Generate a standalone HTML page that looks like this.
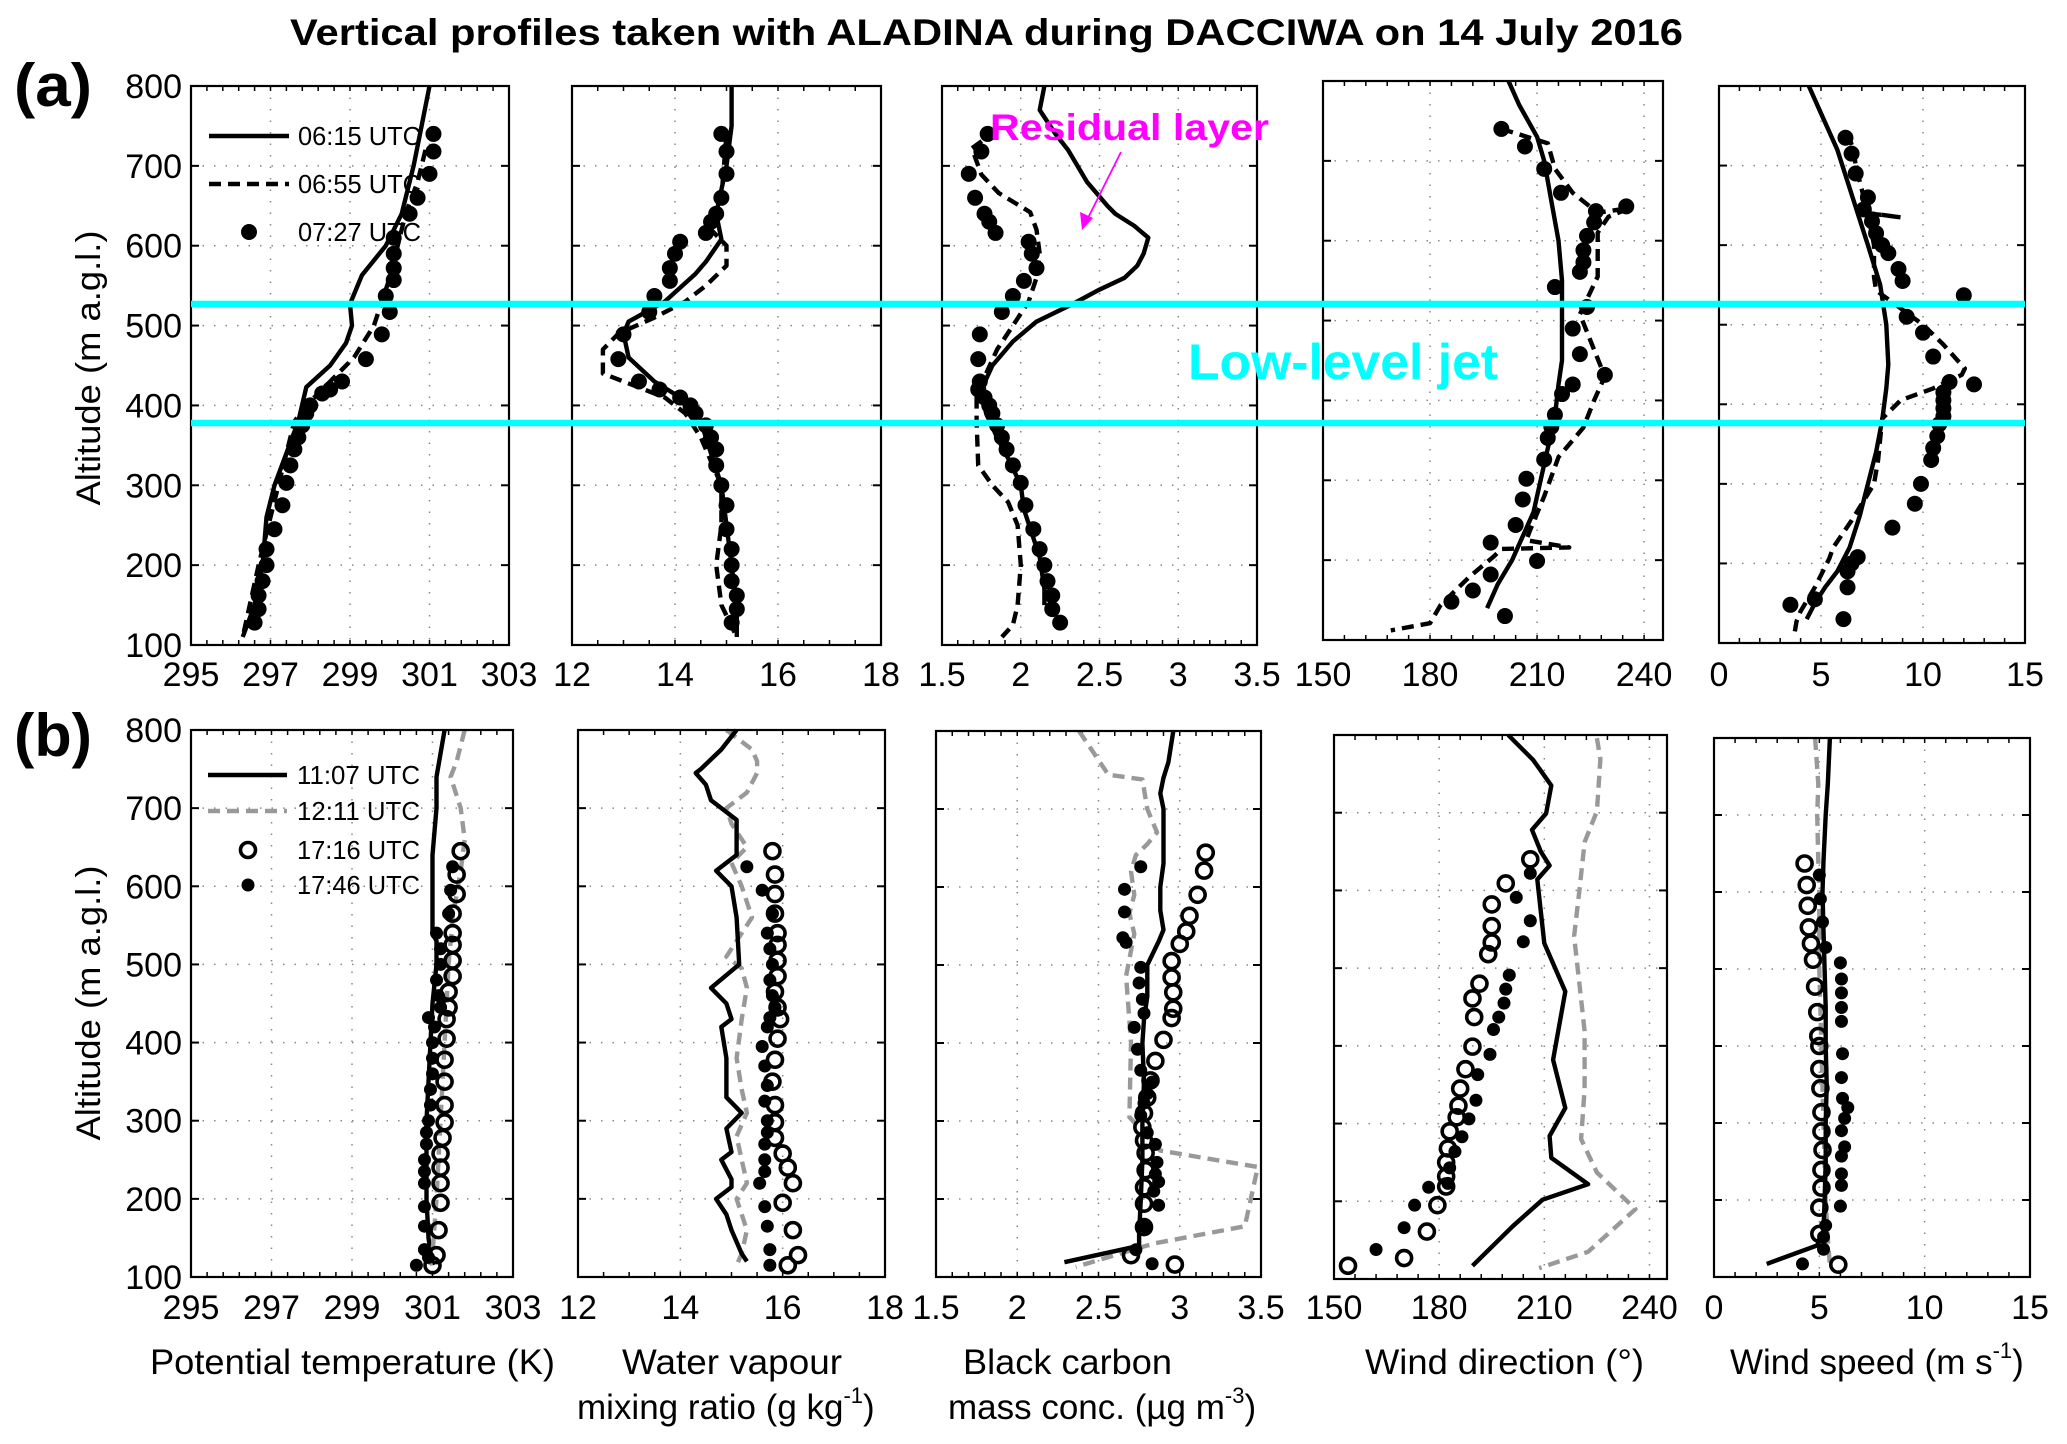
<!DOCTYPE html>
<html><head><meta charset="utf-8"><title>ALADINA vertical profiles</title>
<style>
html,body{margin:0;padding:0;background:#fff;}
svg{display:block;font-family:"Liberation Sans",Arial,sans-serif;}
</style></head>
<body>
<svg id="fig" width="2067" height="1444" viewBox="0 0 2067 1444" xmlns="http://www.w3.org/2000/svg">
<rect width="2067" height="1444" fill="#fff"/>
<text x="290" y="45" font-size="37" font-weight="bold" textLength="1393" lengthAdjust="spacingAndGlyphs">Vertical profiles taken with ALADINA during DACCIWA on 14 July 2016</text>
<text x="14" y="106" font-size="60" font-weight="bold" textLength="78" lengthAdjust="spacingAndGlyphs">(a)</text>
<text x="14" y="756" font-size="60" font-weight="bold" textLength="78" lengthAdjust="spacingAndGlyphs">(b)</text>
<g id="plots"></g>
<g id="overlay"></g>
</svg>
<script>
// ---- axis tick labels ----
const altTicks = [100,200,300,400,500,600,700,800];
const thetaTicks = [295,297,299,301,303];
const qTicks = [12,14,16,18];
const bcTicks = [1.5,2,2.5,3,3.5];
const wdTicks = [150,180,210,240];
const wsTicks = [0,5,10,15];

// ---- (a) data: [altitude m, value] ----
const a1Solid = [[800,301.0],[750,300.8],[700,300.6],[640,300.3],[600,299.9],[563,299.3],[527,299.0],[500,299.05],[478,298.9],[450,298.5],[423,297.9],[380,297.7],[340,297.4],[300,297.1],[260,296.9],[200,296.8],[150,296.6],[110,296.3]];
const a1Dash = [[720,300.9],[680,300.7],[640,300.4],[600,300.2],[560,300.0],[530,299.8],[500,299.6],[460,299.1],[430,298.5],[400,297.9],[380,297.6],[300,297.2],[200,296.7],[110,296.3]];
const a1Dots = [[740,301.1],[718,301.1],[690,301.0],[660,300.7],[640,300.5],[610,300.1],[590,300.1],[572,300.1],[557,300.1],[537,299.9],[517,300.0],[489,299.8],[458,299.4],[430,298.8],[420,298.5],[415,298.3],[400,298.0],[390,297.9],[375,297.8],[360,297.7],[345,297.6],[325,297.5],[303,297.4],[275,297.3],[245,297.1],[220,296.9],[200,296.9],[180,296.8],[162,296.7],[145,296.7],[128,296.6]];
const a2Solid = [[800,15.1],[750,15.1],[700,15.0],[640,14.8],[608,14.9],[580,14.6],[565,14.4],[530,13.8],[505,13.1],[490,13.0],[460,13.1],[430,13.6],[410,14.1],[380,14.5],[340,14.7],[300,14.9],[250,15.0],[200,15.1],[150,15.2],[110,15.2]];
const a2Dash = [[740,15.0],[660,14.9],[620,14.7],[600,15.0],[575,15.0],[550,14.6],[530,14.2],[510,13.6],[490,12.9],[470,12.6],[440,12.6],[430,13.0],[410,13.8],[390,14.2],[360,14.5],[330,14.7],[300,14.9],[250,14.9],[200,14.8],[150,14.9],[110,15.2]];
const a2Dots = [[740,14.9],[718,15.0],[690,15.0],[660,14.9],[640,14.8],[630,14.7],[616,14.6],[605,14.1],[590,14.0],[572,13.9],[556,13.9],[537,13.6],[517,13.5],[489,13.0],[458,12.9],[430,13.3],[420,13.7],[410,14.1],[400,14.3],[390,14.4],[375,14.6],[360,14.7],[345,14.8],[325,14.8],[300,14.9],[275,15.0],[245,15.0],[220,15.1],[200,15.1],[180,15.1],[162,15.2],[145,15.2],[128,15.1]];
const a3Solid = [[800,2.15],[770,2.12],[740,2.22],[720,2.3],[680,2.42],[650,2.55],[640,2.6],[625,2.72],[610,2.81],[590,2.78],[575,2.74],[560,2.66],[545,2.5],[527,2.33],[505,2.1],[480,1.95],[450,1.82],[420,1.75],[390,1.78],[360,1.85],[330,1.93],[300,2.0],[270,2.02],[240,2.07],[210,2.12],[170,2.15],[150,2.15]];
const a3Dash = [[745,1.85],[722,1.69],[689,1.75],[666,1.86],[642,2.06],[620,2.1],[590,2.12],[560,2.1],[530,2.05],[500,1.95],[470,1.85],[440,1.78],[420,1.72],[380,1.72],[325,1.73],[300,1.82],[279,1.92],[250,1.98],[200,2.0],[150,1.98],[125,1.95],[110,1.88]];
const a3Dots = [[740,1.79],[718,1.75],[690,1.67],[660,1.71],[640,1.77],[630,1.8],[616,1.84],[605,2.05],[590,2.07],[572,2.1],[556,2.02],[537,1.95],[517,1.88],[489,1.74],[458,1.73],[430,1.74],[420,1.73],[410,1.77],[400,1.8],[390,1.82],[375,1.85],[360,1.88],[345,1.91],[325,1.95],[303,2.0],[275,2.03],[245,2.08],[220,2.12],[200,2.15],[180,2.17],[162,2.2],[145,2.2],[128,2.25]];
const a4Solid = [[800,202],[770,205],[730,210],[700,212],[650,214],[600,216],[550,217],[500,217],[450,217],[420,216],[380,215],[340,213],[300,211],[260,209],[230,206],[200,203],[170,199],[140,196]];
const a4Dash = [[740,200],[722,213],[690,215],[660,220],[635,227],[641,236],[630,230],[610,227],[555,227],[508,222],[430,229],[400,226],[366,223],[329,216],[280,212],[237,208],[225,207],[216,219],[214,200],[205,198],[179,191],[144,183],[121,180],[112,169]];
const a4Dots = [[740,200],[718,206.6],[690,212],[660,216.7],[643,235],[637,226.5],[623,226],[606,224],[588,223],[573,223],[561,222],[542,215],[517,224],[490,220],[458,222],[432,229],[420,220],[408,217],[382,215],[367,214],[353,213],[326,212],[302,207],[276,206],[244,204],[222,197],[199,210],[182,197],[162,192],[148,186],[130,201]];
const a5Solid = [[800,4.4],[760,5.1],[720,5.8],[680,6.3],[640,6.8],[600,7.3],[550,7.9],[500,8.2],[450,8.3],[420,8.2],[380,8.0],[340,7.7],[300,7.3],[260,6.9],[220,6.4],[190,5.8],[170,5.2],[150,4.7],[130,4.3]];
const a5Dash = [[740,6.3],[720,6.6],[700,6.7],[660,7.1],[640,7.4],[635,8.9],[640,7.3],[600,7.6],[560,7.6],[543,7.7],[530,8.4],[500,10.0],[475,11.0],[445,12.05],[437,11.9],[420,10.5],[405,8.9],[382,8.0],[330,7.8],[300,7.6],[254,6.5],[220,5.6],[206,5.4],[170,4.7],[140,4.0],[127,3.8],[112,3.7]];
const a5Dots = [[735,6.2],[715,6.5],[690,6.7],[660,7.3],[645,7.1],[630,7.5],[615,7.7],[600,8.0],[590,8.3],[570,8.8],[555,9.0],[537,12.0],[510,9.2],[490,10.0],[460,10.5],[425,12.5],[428,11.3],[415,11.0],[405,11.0],[395,11.0],[385,11.0],[375,10.8],[360,10.7],[345,10.5],[330,10.4],[300,9.9],[275,9.6],[245,8.5],[208,6.8],[200,6.5],[190,6.3],[170,6.3],[155,4.7],[148,3.5],[130,6.1]];

// ---- (b) data ----
const b1Solid = [[800,301.3],[740,301.1],[700,301.1],[640,301.0],[600,301.0],[540,301.0],[530,301.1],[500,301.1],[450,301.0],[400,300.95],[350,300.9],[300,300.85],[250,300.85],[200,300.85],[150,300.9],[115,301.0]];
const b1Dash = [[800,301.8],[760,301.6],[740,301.45],[700,301.7],[660,301.8],[620,301.7],[560,301.5],[500,301.4],[400,301.3],[300,301.2],[200,301.1],[130,301.0],[115,300.95]];
const b1Open = [[645,301.7],[615,301.6],[590,301.6],[565,301.5],[540,301.5],[525,301.5],[505,301.5],[485,301.5],[465,301.4],[445,301.4],[430,301.35],[405,301.35],[378,301.3],[350,301.3],[320,301.3],[298,301.3],[278,301.25],[258,301.2],[240,301.2],[220,301.2],[195,301.2],[160,301.15],[128,301.1],[115,301.0]];
const b1Fill = [[625,301.5],[595,301.45],[565,301.4],[540,301.1],[520,301.2],[500,301.2],[480,301.1],[460,301.15],[445,301.2],[432,300.9],[420,301.05],[400,301.0],[380,301.0],[360,301.0],[340,300.95],[320,300.95],[300,300.9],[285,300.85],[270,300.85],[250,300.8],[235,300.8],[220,300.8],[190,300.8],[165,300.8],[135,300.8],[125,300.9],[115,300.6]];
const b2Solid = [[800,15.1],[775,14.8],[750,14.4],[745,14.3],[730,14.5],[710,14.6],[700,14.8],[685,15.1],[640,15.1],[620,14.7],[600,15.0],[560,15.1],[500,15.15],[470,14.6],[450,14.9],[430,15.0],[420,14.8],[380,14.9],[330,14.9],[310,15.2],[290,14.9],[260,15.0],[250,14.8],[225,15.0],[215,15.0],[200,14.7],[180,14.9],[160,15.0],[130,15.2],[120,15.3]];
const b2Dash = [[800,14.9],[775,15.4],[760,15.5],[745,15.5],[720,15.3],[700,14.9],[680,15.0],[650,15.3],[630,15.0],[600,15.2],[560,15.4],[530,15.1],[510,14.9],[495,15.2],[470,15.3],[430,15.2],[380,15.1],[340,15.2],[310,15.3],[280,15.1],[250,15.2],[220,15.3],[200,15.1],[160,15.3],[130,15.2],[115,15.1]];
const b2Open = [[645,15.8],[615,15.85],[590,15.85],[565,15.85],[540,15.9],[525,15.9],[505,15.9],[485,15.9],[465,15.85],[445,15.9],[430,15.95],[405,15.9],[378,15.85],[350,15.8],[320,15.85],[298,15.85],[278,15.85],[258,16.0],[240,16.1],[220,16.2],[195,16.0],[160,16.2],[128,16.3],[115,16.1]];
const b2Fill = [[625,15.3],[595,15.6],[565,15.8],[540,15.7],[520,15.75],[500,15.8],[480,15.75],[460,15.8],[445,15.85],[432,15.75],[420,15.7],[395,15.6],[370,15.65],[345,15.7],[325,15.65],[300,15.7],[285,15.7],[270,15.65],[250,15.65],[235,15.65],[220,15.55],[190,15.65],[165,15.7],[135,15.75],[115,15.75]];
const b3Solid = [[800,2.96],[760,2.93],[740,2.9],[720,2.88],[700,2.9],[670,2.9],[630,2.9],[600,2.88],[570,2.88],[545,2.9],[530,2.87],[500,2.8],[480,2.8],[460,2.8],[430,2.78],[400,2.77],[350,2.78],[300,2.77],[250,2.77],[200,2.76],[155,2.75],[140,2.75],[119,2.29]];
const b3Dash = [[800,2.38],[744,2.56],[738,2.77],[700,2.8],[670,2.86],[655,2.8],[641,2.73],[620,2.7],[590,2.72],[566,2.69],[540,2.72],[486,2.67],[400,2.7],[305,2.69],[262,2.88],[241,3.48],[165,3.4],[143,2.84],[113,2.36]];
const b3Open = [[644,3.16],[621,3.15],[590,3.11],[563,3.06],[543,3.04],[527,3.0],[505,2.95],[484,2.95],[465,2.96],[444,2.96],[432,2.95],[404,2.9],[377,2.85],[352,2.82],[330,2.8],[310,2.78],[292,2.77],[275,2.78],[259,2.79],[237,2.79],[215,2.78],[194,2.78],[164,2.78],[128,2.7],[116,2.97]];
const b3Fill = [[626,2.76],[597,2.66],[568,2.66],[535,2.65],[529,2.67],[497,2.76],[477,2.75],[456,2.77],[438,2.78],[420,2.72],[392,2.74],[365,2.76],[350,2.83],[335,2.8],[323,2.78],[307,2.76],[285,2.8],[270,2.85],[247,2.86],[232,2.85],[222,2.87],[210,2.84],[192,2.87],[164,2.79],[135,2.73],[117,2.83]];
const b4Solid = [[800,199.7],[768,206.8],[735,212],[699,210.5],[678,206.5],[650,209],[632,211.5],[614,208],[532,210],[470,216],[382,212.5],[320,216],[284,211.5],[256,212],[222,222.5],[202,209.5],[168,201],[117,189.5]];
const b4Dash = [[796,225],[769,226],[702,225],[662,221.5],[600,220],[541,218.5],[480,220],[419,221.5],[344,221.5],[280,220.5],[237,225],[190,236],[135,222.5],[114,208.5]];
const b4Open = [[640,206],[609,199],[582,195],[554,195],[533,195],[518,194],[480,191.5],[461,189.5],[437,190],[399,189.5],[370,187.5],[345,186],[323,185.5],[308,185],[290,183],[268,182.5],[250,182],[232,182],[219,182],[195,179.5],[161,176.5],[127,170],[117,154]];
const b4Fill = [[622,206],[591,202],[561,206],[534,204],[491,200],[473,199],[455,198.5],[437,197],[421,195.5],[389,194.5],[363,191],[330,190.5],[306,188.5],[283,186.5],[264,184.5],[243,183],[223,182.5],[218,177],[195,173],[166,170],[138,162]];
const b5Solid = [[800,5.5],[740,5.4],[700,5.3],[640,5.2],[600,5.15],[550,5.2],[500,5.25],[450,5.3],[400,5.3],[350,5.35],[300,5.3],[250,5.3],[200,5.25],[160,5.2],[141,4.9],[117,2.5]];
const b5Dash = [[800,4.8],[740,4.95],[700,4.9],[640,4.95],[600,5.0],[500,5.0],[400,5.1],[300,5.2],[200,5.3],[150,5.4],[115,5.5]];
const b5Open = [[637,4.3],[609,4.4],[582,4.45],[554,4.5],[533,4.6],[512,4.7],[477,4.8],[444,4.9],[413,4.95],[400,5.0],[370,5.0],[345,5.05],[314,5.1],[289,5.1],[265,5.15],[239,5.1],[216,5.1],[190,5.0],[156,5.0],[116,5.9]];
const b5Fill = [[622,5.0],[591,5.05],[561,5.15],[528,5.3],[508,6.0],[487,6.05],[469,6.05],[450,6.05],[432,6.05],[390,6.1],[359,6.05],[332,6.1],[320,6.35],[306,6.2],[290,6.05],[269,6.2],[257,6.05],[234,6.05],[219,6.05],[192,6.0],[167,5.3],[152,5.2],[136,5.2],[117,4.2]];

// ---- layout ----
const panels = [
 {id:'a-theta',x0:191,x1:509,y0:86,y1:645,dom:[295,303],ticks:thetaTicks,grid:[297,299,301],minor:0.4,ylab:true,row:'a',series:[['solid',a1Solid],['dash',a1Dash],['dot',a1Dots]]},
 {id:'a-mixing-ratio',x0:572,x1:881,y0:86,y1:645,dom:[12,18],ticks:qTicks,grid:[14,16],minor:0.5,row:'a',series:[['solid',a2Solid],['dash',a2Dash],['dot',a2Dots]]},
 {id:'a-black-carbon',x0:942,x1:1257,y0:86,y1:645,dom:[1.5,3.5],ticks:bcTicks,grid:[2,2.5,3],minor:0.1,row:'a',series:[['solid',a3Solid],['dash',a3Dash],['dot',a3Dots]]},
 {id:'a-wind-direction',x0:1323,x1:1663,y0:81,y1:640,dom:[150,245.3],ticks:wdTicks,grid:[180,210,240],minor:6,row:'a',series:[['solid',a4Solid],['dash',a4Dash],['dot',a4Dots]]},
 {id:'a-wind-speed',x0:1719,x1:2025,y0:86,y1:643,dom:[0,15],ticks:wsTicks,grid:[5,10],minor:1,row:'a',series:[['solid',a5Solid],['dash',a5Dash],['dot',a5Dots]]},
 {id:'b-theta',x0:191,x1:513,y0:730,y1:1277,dom:[295,303],ticks:thetaTicks,grid:[297,299,301],minor:0.4,ylab:true,row:'b',series:[['solid',b1Solid],['grey',b1Dash],['open',b1Open],['fill',b1Fill]]},
 {id:'b-mixing-ratio',x0:578,x1:885,y0:730,y1:1277,dom:[12,18],ticks:qTicks,grid:[14,16],minor:0.5,row:'b',series:[['grey',b2Dash],['solid',b2Solid],['open',b2Open],['fill',b2Fill]]},
 {id:'b-black-carbon',x0:936,x1:1261,y0:731,y1:1277,dom:[1.5,3.5],ticks:bcTicks,grid:[2,2.5,3],minor:0.1,row:'b',series:[['grey',b3Dash],['solid',b3Solid],['open',b3Open],['fill',b3Fill]]},
 {id:'b-wind-direction',x0:1334,x1:1667,y0:735,y1:1279,dom:[150,245],ticks:wdTicks,grid:[180,210,240],minor:6,row:'b',series:[['grey',b4Dash],['solid',b4Solid],['open',b4Open],['fill',b4Fill]]},
 {id:'b-wind-speed',x0:1714,x1:2030,y0:738,y1:1277,dom:[0,15],ticks:wsTicks,grid:[5,10],minor:1,row:'b',series:[['grey',b5Dash],['solid',b5Solid],['open',b5Open],['fill',b5Fill]]}
];
const NS='http://www.w3.org/2000/svg';
function mk(tag,attrs,parent){const e=document.createElementNS(NS,tag);for(const k in attrs)e.setAttribute(k,attrs[k]);if(parent)parent.appendChild(e);return e;}
const root=document.getElementById('plots');

panels.forEach(p=>{
  const g=mk('g',{},root);
  
  
  const xs=v=>p.x0+(v-p.dom[0])/(p.dom[1]-p.dom[0])*(p.x1-p.x0);
  const ys=a=>p.y1-(a-100)/700*(p.y1-p.y0);
  p.grid.forEach(v=>{const l=mk('line',{x1:xs(v),x2:xs(v),y1:p.y0,y2:p.y1,stroke:'#888','stroke-width':1.5,'stroke-dasharray':'1.5 10'},g);
    });
  altTicks.slice(1,-1).forEach(a=>{const l=mk('line',{x1:p.x0,x2:p.x1,y1:ys(a),y2:ys(a),stroke:'#888','stroke-width':1.5,'stroke-dasharray':'1.5 10'},g);
    });
  for(let v=p.dom[0];v<=p.dom[1]+1e-9;v+=p.minor){const X=xs(v);
    mk('line',{x1:X,x2:X,y1:p.y1,y2:p.y1-5,stroke:'#000','stroke-width':1.5},g);
    mk('line',{x1:X,x2:X,y1:p.y0,y2:p.y0+5,stroke:'#000','stroke-width':1.5},g);}
  altTicks.forEach(a=>{const Y=ys(a);
    mk('line',{x1:p.x0,x2:p.x0+8,y1:Y,y2:Y,stroke:'#000','stroke-width':2},g);
    mk('line',{x1:p.x1,x2:p.x1-8,y1:Y,y2:Y,stroke:'#000','stroke-width':2},g);});
  p.series.forEach(([kind,data])=>{
    if(kind==='solid'||kind==='dash'||kind==='grey'){
      const d=data.map((pt,i)=>(i?'L':'M')+xs(pt[1]).toFixed(1)+' '+ys(pt[0]).toFixed(1)).join(' ');
      const path=mk('path',{d:d,fill:'none',stroke:kind==='grey'?'#999':'#000','stroke-width':4.4,'stroke-linejoin':'round'},g);
      if(kind!=='solid')path.setAttribute('stroke-dasharray','12 7');
      
      
    } else {
      data.forEach(pt=>{
        let c;
        if(kind==='dot') c=mk('circle',{cx:xs(pt[1]),cy:ys(pt[0]),r:8,fill:'#000'},g);
        else if(kind==='fill') c=mk('circle',{cx:xs(pt[1]),cy:ys(pt[0]),r:6.5,fill:'#000'},g);
        else c=mk('circle',{cx:xs(pt[1]),cy:ys(pt[0]),r:7.5,fill:'none',stroke:'#000','stroke-width':3.6},g);
        
        
      });
    }
  });
  const fr=mk('rect',{x:p.x0,y:p.y0,width:p.x1-p.x0,height:p.y1-p.y0,fill:'none',stroke:'#000','stroke-width':2.2},g);
  
  const by=p.row==='a'?686:1319;
  p.ticks.forEach(v=>{const t=mk('text',{x:xs(v),y:by,'font-size':34,'text-anchor':'middle'},g);t.textContent=String(v);
    });
  if(p.ylab){altTicks.forEach(a=>{const t=mk('text',{x:p.x0-9,y:ys(a)+12,'font-size':34,'text-anchor':'end'},g);t.textContent=String(a);
    });}
});
</script>
<svg style="position:absolute;left:0;top:0" width="2067" height="1444" viewBox="0 0 2067 1444" xmlns="http://www.w3.org/2000/svg" font-family="Liberation Sans, Arial, sans-serif">
<g>
<line x1="191" y1="304" x2="2025" y2="304" stroke="#00ffff" stroke-width="6.5"/>
<line x1="191" y1="423" x2="2025" y2="423" stroke="#00ffff" stroke-width="6.5"/>
</g>
<text x="1188" y="379" font-size="50" font-weight="bold" fill="#00ffff" textLength="310" lengthAdjust="spacingAndGlyphs">Low-level jet</text>
<text x="990" y="140" font-size="37" font-weight="bold" fill="#ff00ff" textLength="279" lengthAdjust="spacingAndGlyphs">Residual layer</text>
<g>
<line x1="1121" y1="152" x2="1086" y2="222" stroke="#ff00ff" stroke-width="1.8"/>
<path d="M1082 230 L1080 212 L1093 218 Z" fill="#ff00ff"/>
</g>
<text transform="translate(100,368) rotate(-90)" font-size="34" text-anchor="middle" textLength="275" lengthAdjust="spacingAndGlyphs">Altitude (m a.g.l.)</text>
<text transform="translate(100,1003) rotate(-90)" font-size="34" text-anchor="middle" textLength="275" lengthAdjust="spacingAndGlyphs">Altitude (m a.g.l.)</text>
<g font-size="26">
<line x1="209" y1="136" x2="289" y2="136" stroke="#000" stroke-width="4.4"/>
<text x="298" y="145" textLength="123" lengthAdjust="spacingAndGlyphs">06:15 UTC</text>
<line x1="209" y1="184" x2="289" y2="184" stroke="#000" stroke-width="4.4" stroke-dasharray="12 7"/>
<text x="298" y="193" textLength="123" lengthAdjust="spacingAndGlyphs">06:55 UTC</text>
<circle cx="249" cy="232" r="8" fill="#000"/>
<text x="298" y="241" textLength="123" lengthAdjust="spacingAndGlyphs">07:27 UTC</text>
</g>
<g font-size="26">
<line x1="208" y1="775" x2="287" y2="775" stroke="#000" stroke-width="4.4"/>
<text x="297" y="784" textLength="123" lengthAdjust="spacingAndGlyphs">11:07 UTC</text>
<line x1="208" y1="811" x2="287" y2="811" stroke="#999" stroke-width="4.4" stroke-dasharray="12 7"/>
<text x="297" y="820" textLength="123" lengthAdjust="spacingAndGlyphs">12:11 UTC</text>
<circle cx="248" cy="850" r="7.5" fill="none" stroke="#000" stroke-width="3.6"/>
<text x="297" y="859" textLength="123" lengthAdjust="spacingAndGlyphs">17:16 UTC</text>
<circle cx="248" cy="885" r="6.5" fill="#000"/>
<text x="297" y="894" textLength="123" lengthAdjust="spacingAndGlyphs">17:46 UTC</text>
</g>
<g font-size="35">
<text x="150" y="1374" textLength="405" lengthAdjust="spacingAndGlyphs">Potential temperature (K)</text>
<text x="622" y="1374" textLength="220" lengthAdjust="spacingAndGlyphs">Water vapour</text>
<text x="577" y="1419">mixing ratio (g kg<tspan font-size="22" dy="-16">-1</tspan><tspan dy="16">)</tspan></text>
<text x="963" y="1374" textLength="209" lengthAdjust="spacingAndGlyphs">Black carbon</text>
<text x="948" y="1419">mass conc. (µg m<tspan font-size="22" dy="-16">-3</tspan><tspan dy="16">)</tspan></text>
<text x="1365" y="1374" textLength="279" lengthAdjust="spacingAndGlyphs">Wind direction (°)</text>
<text x="1730" y="1374">Wind speed (m s<tspan font-size="22" dy="-16">-1</tspan><tspan dy="16">)</tspan></text>
</g>
</svg>
</body></html>
